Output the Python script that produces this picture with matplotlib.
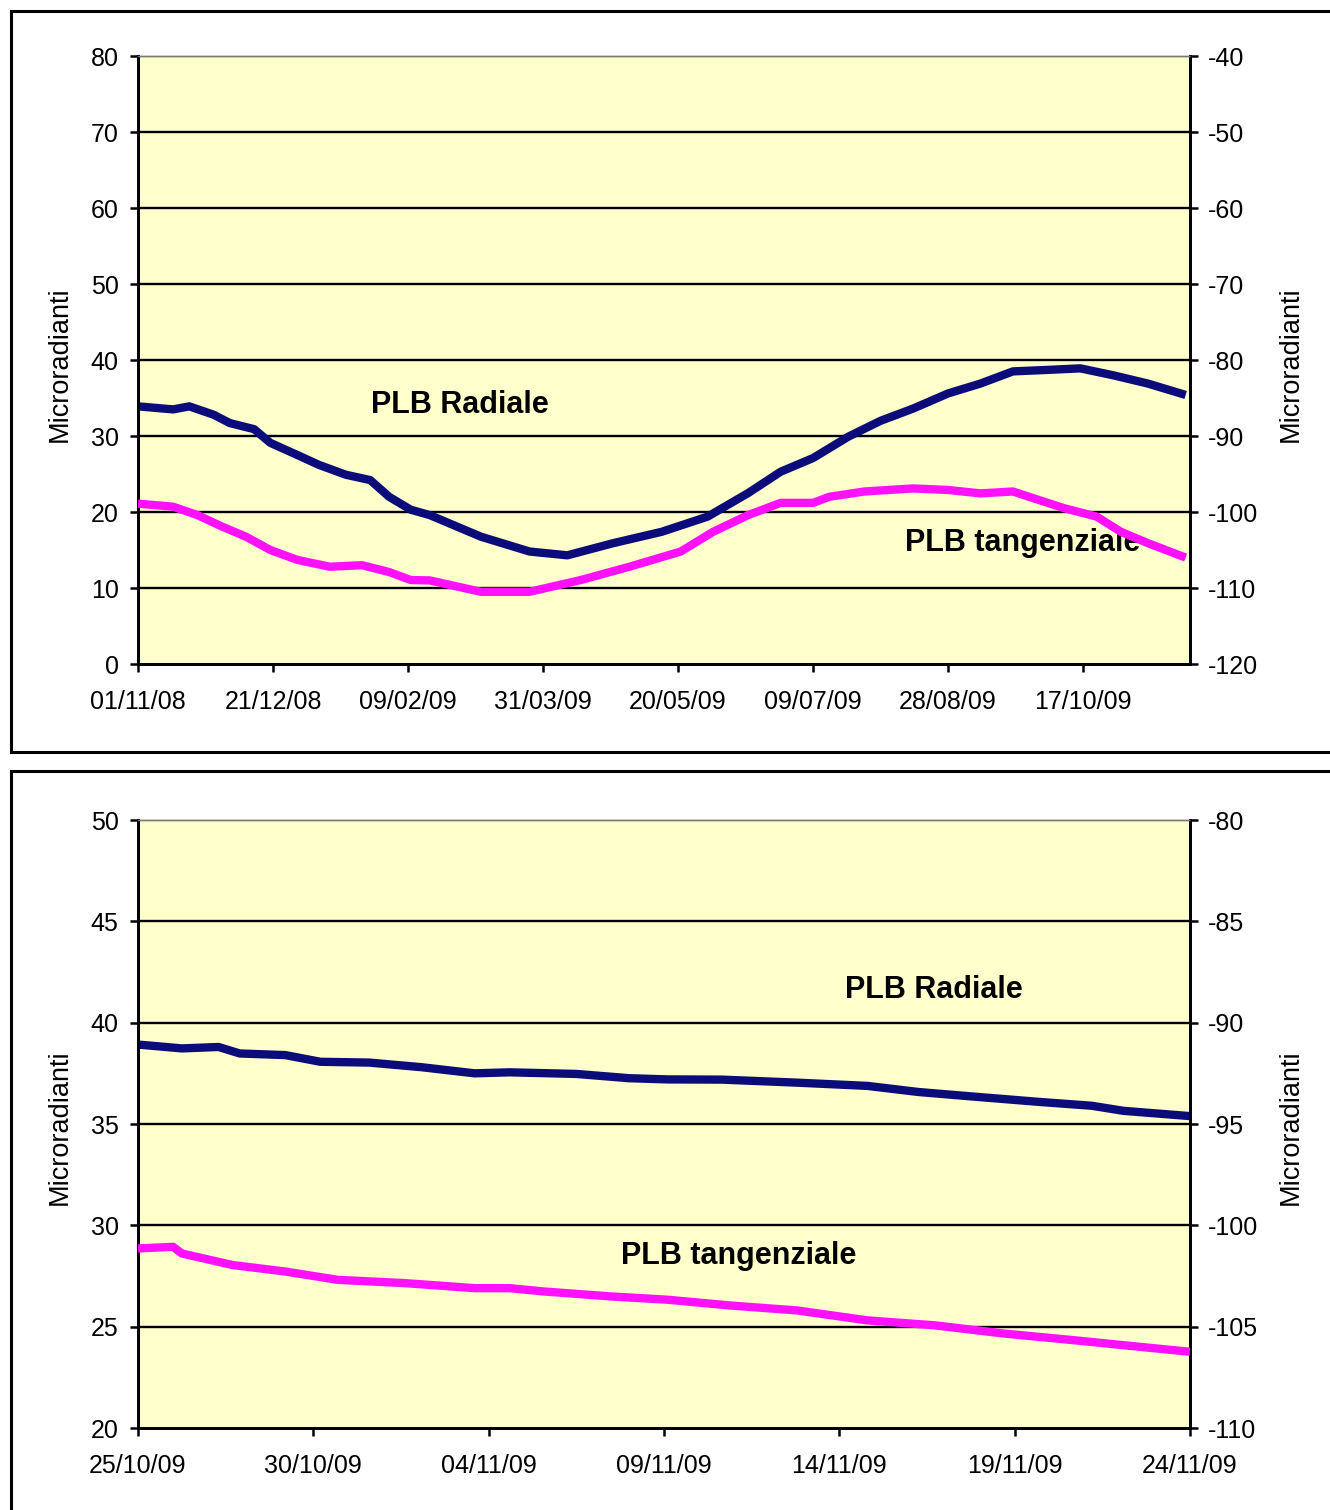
import matplotlib
matplotlib.use('Agg')
import matplotlib.pyplot as plt
import matplotlib.dates as mdates
from matplotlib.lines import Line2D
import datetime as dt

plt.rcParams['font.family'] = ['Liberation Sans', 'DejaVu Sans']

# ---------------- data: top chart (01/11/08 -> 25/11/09) ----------------
top_start = dt.datetime(2008, 11, 1)
top_end_days = 389.6
top_rad_days = [0, 13, 19, 28, 34, 43, 49, 59, 67, 77, 86, 93, 101, 108, 127, 145,
                159, 176, 194, 211, 226, 238, 250, 263, 275, 287, 300, 312, 324,
                337, 349, 361, 374, 388]
top_radiale = [33.9, 33.5, 33.9, 32.8, 31.7, 30.9, 29.1, 27.5, 26.2, 24.9, 24.2, 22.0,
               20.3, 19.6, 16.75, 14.8, 14.3, 15.9, 17.4, 19.4, 22.5, 25.3, 27.1, 29.9,
               32.0, 33.6, 35.6, 36.9, 38.5, 38.7, 38.9, 38.0, 36.9, 35.4]
top_tan_days = [0, 13, 22, 31, 40, 49, 59, 71, 83, 93, 101, 108, 127, 145, 164, 182,
                201, 213, 226, 238, 250, 256, 269, 287, 300, 312, 324, 330, 343, 355,
                364, 374, 388]
# tangenziale values read on the right axis
top_tangenziale = [-98.9, -99.3, -100.4, -101.9, -103.25, -105.0, -106.3, -107.2,
                   -107.0, -107.9, -108.95, -109.0, -110.5, -110.5, -108.95, -107.2,
                   -105.2, -102.6, -100.4, -98.8, -98.8, -98.0, -97.3, -96.9, -97.1,
                   -97.55, -97.3, -98.0, -99.5, -100.6, -102.6, -104.1, -106.0]
top_xtick_labels = ['01/11/08', '21/12/08', '09/02/09', '31/03/09', '20/05/09',
                    '09/07/09', '28/08/09', '17/10/09']
top_left_ticks = [0, 10, 20, 30, 40, 50, 60, 70, 80]
top_right_ticks = [-120, -110, -100, -90, -80, -70, -60, -50, -40]

# ---------------- data: bottom chart (25/10/09 -> 24/11/09) ----------------
bot_start = dt.datetime(2009, 10, 25)
bot_end_days = 30
bot_rad_days = [0, 1.25, 2.3, 2.9, 4.2, 5.2, 6.6, 8.1, 9.6, 10.6, 12.5, 14.0, 15.1,
                16.65, 18.8, 20.8, 22.25, 23.7, 25.7, 27.2, 28.1, 30]
bot_radiale = [38.92, 38.73, 38.8, 38.48, 38.4, 38.07, 38.03, 37.8, 37.5, 37.55, 37.47,
               37.26, 37.2, 37.19, 37.04, 36.88, 36.58, 36.37, 36.09, 35.9, 35.65, 35.39]
bot_tan_days = [0, 1.0, 1.25, 2.7, 4.2, 5.7, 7.6, 9.6, 10.6, 11.55, 13.5, 15.1, 16.85,
                18.8, 20.8, 22.7, 24.7, 26.7, 28.6, 30]
bot_tangenziale = [-101.14, -101.06, -101.39, -101.96, -102.28, -102.69, -102.85,
                   -103.1, -103.1, -103.26, -103.51, -103.67, -103.95, -104.2, -104.69,
                   -104.93, -105.34, -105.67, -106.0, -106.24]
bot_xtick_labels = ['25/10/09', '30/10/09', '04/11/09', '09/11/09', '14/11/09',
                    '19/11/09', '24/11/09']
bot_left_ticks = [20, 25, 30, 35, 40, 45, 50]
bot_right_ticks = [-110, -105, -100, -95, -90, -85, -80]

label_rad = 'PLB Radiale'
label_tan = 'PLB tangenziale'
ylabel = 'Microradianti'

NAVY = '#0b0b7a'
PINK = '#ff10ff'
BG = '#ffffcc'

W, H = 1330, 1510
fig = plt.figure(figsize=(W / 100, H / 100), dpi=100)
fig.patch.set_facecolor('white')


def days_to_dates(start, days):
    return [start + dt.timedelta(days=d) for d in days]


def make_panel(rect, start, end_days, rad_days, rad, tan_days, tan, xlabels,
               lticks, rticks, rad_pos, tan_pos):
    ax = fig.add_axes(rect)
    ax.set_facecolor(BG)
    ax2 = ax.twinx()
    ax.set_xlim(start, start + dt.timedelta(days=end_days))
    ax.set_ylim(lticks[0], lticks[-1])
    ax2.set_ylim(rticks[0], rticks[-1])
    ax.set_yticks(lticks)
    ax2.set_yticks(rticks)
    ax.set_yticklabels([str(t) for t in lticks])
    ax2.set_yticklabels([str(t) for t in rticks])
    ticks = [dt.datetime.strptime(s, '%d/%m/%y') for s in xlabels]
    ax.set_xticks(ticks)
    ax.set_xticklabels(xlabels)
    for t in lticks[1:-1]:
        ax.axhline(t, color='black', lw=1.7, zorder=1)
    ax.plot(days_to_dates(start, rad_days), rad, color=NAVY, lw=6,
            solid_capstyle='butt', zorder=3)
    ax2.plot(days_to_dates(start, tan_days), tan, color=PINK, lw=6,
             solid_capstyle='butt', zorder=3)
    for a in (ax, ax2):
        a.spines['top'].set_color('#777777')
        a.spines['top'].set_linestyle((0, (1, 1)))
        a.spines['top'].set_linewidth(1.0)
        for s in ('left', 'right', 'bottom'):
            a.spines[s].set_color('black')
            a.spines[s].set_linewidth(2)
    ax.tick_params(axis='x', direction='out', length=6, width=1.8, pad=13,
                   labelsize=18)
    ax.tick_params(axis='y', direction='out', length=6, width=1.8, pad=8,
                   labelsize=18)
    ax2.tick_params(axis='y', direction='out', length=6, width=1.8, pad=7,
                    labelsize=18)
    ax.text(rad_pos[0], rad_pos[1], label_rad, transform=ax.transAxes,
            ha='center', va='center', fontsize=22, fontweight='bold', zorder=5)
    ax.text(tan_pos[0], tan_pos[1], label_tan, transform=ax.transAxes,
            ha='center', va='center', fontsize=22, fontweight='bold', zorder=5)
    return ax, ax2


ax_l, ax_w = 138 / W, 1052 / W
ax_h = 608 / H
make_panel([ax_l, 1 - 664 / H, ax_w, ax_h], top_start, top_end_days,
           top_rad_days, top_radiale, top_tan_days, top_tangenziale,
           top_xtick_labels, top_left_ticks, top_right_ticks,
           (0.306, 0.426), (0.841, 0.199))
make_panel([ax_l, 1 - 1428 / H, ax_w, ax_h], bot_start, bot_end_days,
           bot_rad_days, bot_radiale, bot_tan_days, bot_tangenziale,
           bot_xtick_labels, bot_left_ticks, bot_right_ticks,
           (0.757, 0.720), (0.571, 0.283))

# axis titles
for yc in (364, 1127):
    fig.text(60 / W, 1 - yc / H, ylabel, rotation=90, ha='center', va='center',
             fontsize=19.5)
    fig.text(1291 / W, 1 - yc / H, ylabel, rotation=90, ha='center', va='center',
             fontsize=19.5)

# panel frames
def fline(x0, y0, x1, y1):
    fig.add_artist(Line2D([x0 / W, x1 / W], [1 - y0 / H, 1 - y1 / H],
                          transform=fig.transFigure, color='black', lw=2.2))

fline(11, 11, W, 11)
fline(11, 11, 11, 752)
fline(11, 752, W, 752)
fline(11, 771, W, 771)
fline(11, 771, 11, H)

fig.savefig('out.png', dpi=100, facecolor='white')
